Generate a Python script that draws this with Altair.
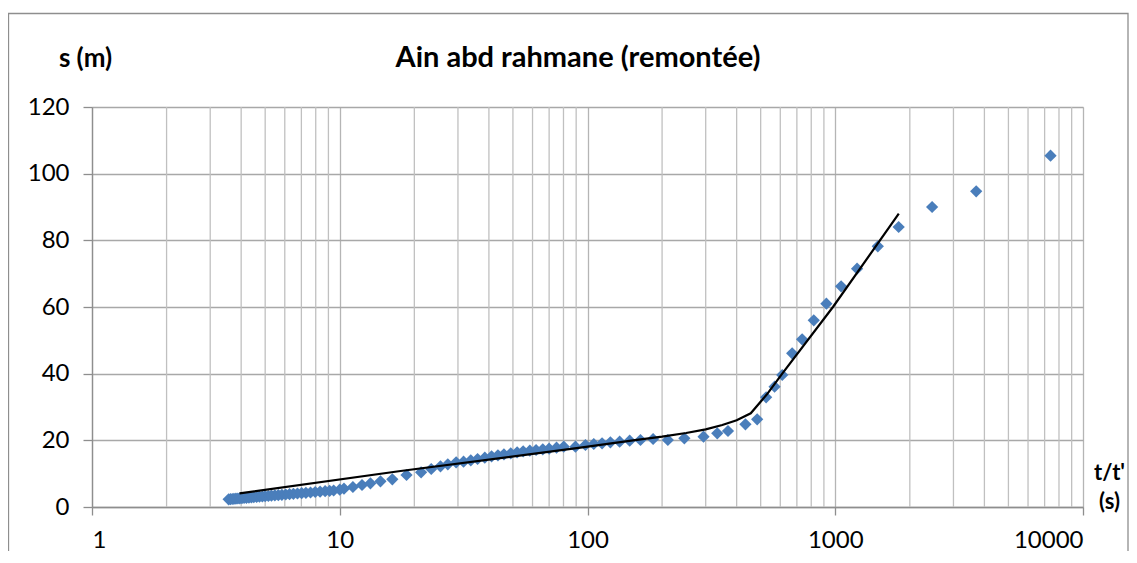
import altair as alt
import pandas as pd

# Observed data (t/t', residual drawdown s)
t_vals = [3.56, 3.62, 3.68, 3.74, 3.81, 3.88, 3.95, 4.03, 4.11, 4.2, 4.3, 4.4, 4.5, 4.62, 4.74,
          4.87, 5.0, 5.15, 5.3, 5.47, 5.65, 5.84, 6.05, 6.27, 6.5, 6.75, 7.02, 7.3, 7.62, 7.96,
          8.33, 8.73, 9.1, 9.45, 10.0, 10.4, 11.3, 12.3, 13.3, 14.6, 16.3, 18.6, 21.3, 23.4,
          25.5, 27.3, 29.5, 31.6, 33.8, 36.0, 38.5, 41.0, 43.5, 46.0, 49.0, 52.0, 55.0, 58.5,
          62.0, 66.0, 70.0, 75.0, 80.2, 89.4, 98.1, 106, 114.5, 123.7, 134.8, 148, 163.6, 184,
          211, 246, 294, 334, 369, 434, 484, 526, 569, 611, 670, 735, 819, 921, 1056, 1225,
          1485, 1803, 2460, 3706, 7395]
s_vals = [2.3, 2.35, 2.4, 2.45, 2.5, 2.55, 2.6, 2.65, 2.7, 2.75, 2.8, 2.9, 2.95, 3.0, 3.1,
          3.15, 3.25, 3.3, 3.4, 3.5, 3.55, 3.65, 3.75, 3.85, 3.95, 4.05, 4.15, 4.25, 4.35, 4.5,
          4.6, 4.75, 4.85, 4.95, 5.2, 5.5, 6.0, 6.6, 7.1, 7.7, 8.3, 9.6, 10.4, 11.4,
          12.2, 12.8, 13.4, 13.6, 14.0, 14.4, 14.8, 15.2, 15.5, 15.8, 16.1, 16.4, 16.7, 16.9,
          17.1, 17.3, 17.5, 17.8, 18.1, 18.1, 18.6, 18.9, 19.1, 19.4, 19.6, 19.9, 20.1, 20.4,
          20.1, 20.6, 21.1, 22.1, 22.8, 24.8, 26.3, 32.9, 36.1, 39.6, 46.1, 50.3, 56.0, 61.0,
          66.2, 71.5, 78.2, 84.0, 90.0, 94.7, 105.4]

# Fitted line
fit_t = [3.94, 17.6, 93.6, 150, 200, 250, 300, 350, 400, 456, 530, 611, 979, 1805]
fit_s = [4.1, 10.8, 17.8, 19.9, 21.1, 22.2, 23.3, 24.6, 26.0, 28.1, 33.8, 40.0, 60.0, 88.0]

x_major = [1, 10, 100, 1000, 10000]
x_minor = [m * 10 ** e for e in range(4) for m in range(2, 10)]
y_ticks = [0, 20, 40, 60, 80, 100, 120]
chart_title = "Ain abd rahmane (remontée)"

FONT = "Lato"
W, H = 991, 400

pts = pd.DataFrame({"t": t_vals, "s": s_vals})
fit = pd.DataFrame({"t": fit_t, "s": fit_s})
minor = pd.DataFrame({"t": x_minor})
one = pd.DataFrame({"a": [0]})

xscale = alt.Scale(type="log", domain=[1, 10000], nice=False)
yscale = alt.Scale(domain=[0, 120], nice=False, zero=True)

xaxis = alt.Axis(values=x_major, format="d", grid=True, gridColor="#b5b5b5", gridWidth=1.3,
                 domainColor="#8e8e8e", domainWidth=1.3, tickColor="#8e8e8e", tickWidth=1.3,
                 tickSize=8, labelPadding=13, labelFont=FONT, labelFontSize=24,
                 labelColor="#000000",
                 title=["t/t'", "(s)"], titleFont=FONT, titleFontSize=22, titleFontWeight="bold",
                 titleAngle=0, titleAlign="center", titleBaseline="alphabetic",
                 titleX=1017, titleY=-28, titleLineHeight=29, titleColor="#000000")
yaxis = alt.Axis(values=y_ticks, grid=True, gridColor="#a8a8a8", gridWidth=1.3,
                 domainColor="#8e8e8e", domainWidth=1.3, tickColor="#8e8e8e", tickWidth=1.3,
                 tickSize=9, labelPadding=14, labelFont=FONT, labelFontSize=24,
                 labelColor="#000000",
                 title="s (m)", titleFont=FONT, titleFontSize=26, titleFontWeight="bold",
                 titleAngle=0, titleAlign="center", titleBaseline="middle",
                 titleX=-7, titleY=-49, titleColor="#000000")

frame = alt.Chart(one).mark_rect(filled=False, stroke="#8e8e8e", strokeWidth=1.3).encode(
    x=alt.value(-83.5), x2=alt.value(1036), y=alt.value(-93.5), y2=alt.value(470))

title = alt.Chart(one).mark_text(text=chart_title, font=FONT, fontSize=29, fontWeight="bold",
                                 color="#000000", align="center", baseline="middle").encode(
    x=alt.value(486), y=alt.value(-49))

grid = alt.Chart(minor).mark_rule(color="#c0c0c0", strokeWidth=1.3).encode(
    x=alt.X("t:Q", scale=xscale, axis=xaxis))

points = alt.Chart(pts).mark_point(shape="diamond", filled=True, size=150,
                                    color="#4A7EBB", opacity=1).encode(
    x=alt.X("t:Q", scale=xscale, axis=xaxis),
    y=alt.Y("s:Q", scale=yscale, axis=yaxis))

line = alt.Chart(fit).mark_line(color="#000000", strokeWidth=2.2).encode(
    x=alt.X("t:Q", scale=xscale, axis=xaxis),
    y=alt.Y("s:Q", scale=yscale, axis=yaxis))

chart = alt.layer(frame, title, grid, points, line).properties(
    width=W, height=H,
    autosize=alt.AutoSizeParams(type="none"),
    padding={"left": 84, "top": 99, "right": 46, "bottom": 44},
).configure_view(stroke=None).configure(background="#ffffff")

chart.save("out.html", embed_options={"renderer": "svg", "actions": False})
